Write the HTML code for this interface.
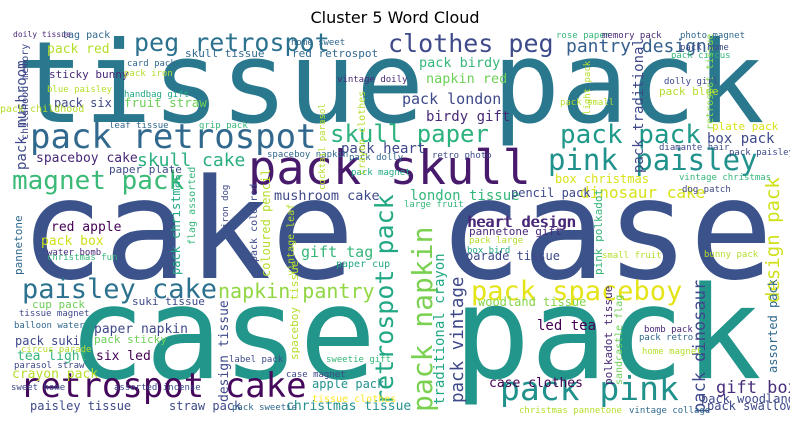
<!DOCTYPE html>
<html><head><meta charset="utf-8"><style>
html,body{margin:0;padding:0;background:#fff;}
svg text{font-family:"DejaVu Sans Mono","Liberation Mono",monospace;}
</style></head><body>
<svg width="790" height="427" viewBox="0 0 790 427">
<text x="395" y="23" text-anchor="middle" font-size="16" style='font-family:"DejaVu Sans","Liberation Sans",sans-serif' fill="#000">Cluster 5 Word Cloud</text>
<g id="words"></g>
</svg>
<script>
// parallel arrays: word text, x, baseline y, font size, colour, rotation
const words = ["tissue pack","cake case","case pack","pack retrospot","pack skull","peg retrospot","clothes peg","pantry design","skull paper","pack pack","pink paisley","magnet pack","skull cake","spaceboy cake","paisley cake","napkin pantry","pack spaceboy","retrospot cake","pack pink","pack napkin","retrospot pack","mushroom cake","pack dinosaur","design pack","gift box","red apple","pack red","tag pack","skull tissue","red retrospot","pack mushroom","sticky bunny","pack six","fruit straw","paper plate","london tissue","heart design","dinosaur cake","pack vintage","box pack","pack london","birdy gift","pack heart","napkin red","pack birdy","gift tag","paper napkin","pack suki","six led","crayon pack","straw pack","christmas tissue","case clothes","pack woodland","pack swallow","traditional crayon","design tissue","pack box","led tea","apple pack","tea light","box christmas","woodland tissue","pack traditional","retrospot tissue","heart design","pencil pack","polkadot tissue","sandcastle flag","assorted pack","spaceboy tissue","coloured pencil","pack christmas","pannetone","cup pack","suki tissue","pack sticky","paisley tissue","plate pack","pack blue","doily tissue","blue paisley","card pack","pack iron","handbag gift","leaf tissue","grip pack","spaceboy napkin","pack dolly","pack magnet","retro photo","water bomb","christmas fun","paper cup","tissue magnet","balloon water","circus parade","parasol straw","sweet home","assorted incense","case magnet","label pack","sweetie gift","tissue clothes","pack sweetie","christmas pannetone","vintage collage","pannetone gift","box bird","parade tissue","pack large","bomb pack","pack retro","home magnet","bunny pack","small fruit","vintage christmas","dog patch","pack paisley","diamante hair","large fruit","rose paper","memory pack","photo magnet","pack home","pack circus","dolly girl","pack small","vintage doily","home sweet","iron dog","light pack","pink polkadot","flag assorted","pack coloured","vintage leaf","cocktail parasol","crayon clothes","childhood memory","pack childhood"];
const xs=[16,20,68,30,248,134,388,566,330,560,548,12,137,36,22,218,471,20,500,432,393,274,705,779,716,51,47,62,185,292,26,49,54,124,109,410,468,580,463,707,402,426,341,426,419,301,94,15,96,12,169,286,489,701,707,444,228,41,537,312,17,555,478,643,713,467,511,612,622,777,298,270,180,22,32,132,94,30,712,659,13,47,127,124,124,109,199,267,349,351,432,47,47,336,19,14,21,14,11,114,286,229,326,312,232,519,629,469,467,466,469,644,639,642,704,602,679,682,729,659,404,556,602,680,680,671,664,560,337,291,228,590,602,195,257,294,325,365,28];
const ys=[122,278,378,148,184,51,52,52,142,143,170,189,166,162,298,298,300,397,400,412,405,200,413,303,393,231,53,38,57,57,170,78,107,107,173,200,227,198,403,143,104,121,153,83,67,257,333,345,360,378,410,410,387,403,410,405,402,245,330,388,360,183,306,173,130,227,197,385,385,373,360,277,275,275,308,305,343,410,130,95,37,92,66,76,97,128,128,157,160,175,158,255,260,267,316,328,352,368,390,390,377,362,362,402,410,413,413,235,253,260,243,332,340,354,257,258,180,192,155,150,207,38,38,38,50,58,84,105,82,45,228,115,275,245,262,276,190,175,140,112,150];
const sizes=[113,139,128,34,47,25,25,18,24,26,29,26,18,13,27,20,27,34,33,28,25,13.5,17,19,17,13,13,10,11,11,14,11,12,12.5,11,14,15,16,17.5,14,15,14,14,13.5,13.5,15,13,12,13,13,12,13,13,12,12,14,13,13,14,12,13,12,12,14,10,15,12,11,10,12,11,12,12,11,11,11,11,12,11,11,8,9,9,9,9,9,9,9,9,9,9,9,9,10,9,9,9,9,9,9,9,9,9,10,9,9,9,11,9,12,9,9,9,9,9,9,9,9,9,9,9,9,9,9,9,9,9,9,9,9,9,9,11,10,10,10,9,10,10,10,9];
const colors=["#2a788e","#3b528b","#23968b","#31688e","#481a6c","#2c728e","#3e4a89","#355f8d","#2db27d","#1f9a8a","#21918c","#3aba76","#2ab07f","#482878","#2c728e","#90d743","#e5e419","#46085c","#21918c","#7ad151","#22a884","#3e4989","#3e4989","#d0e11c","#472d7b","#440154","#b5de2b","#31688e","#31688e","#31688e","#3e4989","#482878","#3e4989","#6ece58","#3e4989","#35b779","#482878","#d8e219","#3e4989","#3e4989","#3e4989","#482878","#3e4989","#6ece58","#35b779","#35b779","#3e4989","#3e4989","#440154","#b5de2b","#3e4989","#21918c","#440154","#3e4989","#3e4989","#22a884","#3e4989","#d0e11c","#440154","#21918c","#35b779","#d8e219","#86d549","#3e4989","#86d549","#482878","#3e4989","#482878","#6ece58","#31688e","#b5de2b","#b5de2b","#22a884","#31688e","#6ece58","#3e4989","#6ece58","#3e4989","#d8e219","#b5de2b","#482878","#b5de2b","#31688e","#b5de2b","#22a884","#31688e","#35b779","#31688e","#31688e","#22a884","#3e4989","#482878","#35b779","#22a884","#3e4989","#31688e","#b5de2b","#3e4989","#3e4989","#3e4989","#3e4989","#3e4989","#35b779","#fde725","#31688e","#b5de2b","#31688e","#482878","#22a884","#3e4989","#b5de2b","#482878","#31688e","#b5de2b","#b5de2b","#b5de2b","#35b779","#3e4989","#3e4989","#3e4989","#35b779","#35b779","#482878","#31688e","#3e4989","#35b779","#3e4989","#b5de2b","#482878","#31688e","#3e4989","#b5de2b","#35b779","#35b779","#3e4989","#b5de2b","#b5de2b","#b5de2b","#3e4989","#b5de2b","#35b779"];
const rots=[0,0,0,0,0,0,0,0,0,0,0,0,0,0,0,0,0,0,0,-90,-90,0,-90,-90,0,0,0,0,0,0,-90,0,0,0,0,0,0,0,-90,0,0,0,0,0,0,0,0,0,0,0,0,0,0,0,0,-90,-90,0,0,0,0,0,0,-90,-90,0,0,-90,-90,-90,-90,-90,-90,-90,0,0,0,0,0,0,0,0,0,0,0,0,0,0,0,0,0,0,0,0,0,0,0,0,0,0,0,0,0,0,0,0,0,0,0,0,0,0,0,0,0,0,0,0,0,0,0,0,0,0,0,0,0,0,0,0,-90,-90,-90,-90,-90,-90,-90,-90,-90];
const g=document.getElementById('words');
for(let i=0;i<words.length;i++){
  const t=document.createElementNS('http://www.w3.org/2000/svg','text');
  t.setAttribute('x',xs[i]);t.setAttribute('y',ys[i]);
  t.setAttribute('font-size',sizes[i]);t.setAttribute('fill',colors[i]);
  if(rots[i])t.setAttribute('transform','rotate('+rots[i]+' '+xs[i]+' '+ys[i]+')');
  t.textContent=words[i];
  
  
  g.appendChild(t);
}
</script>
</body></html>
